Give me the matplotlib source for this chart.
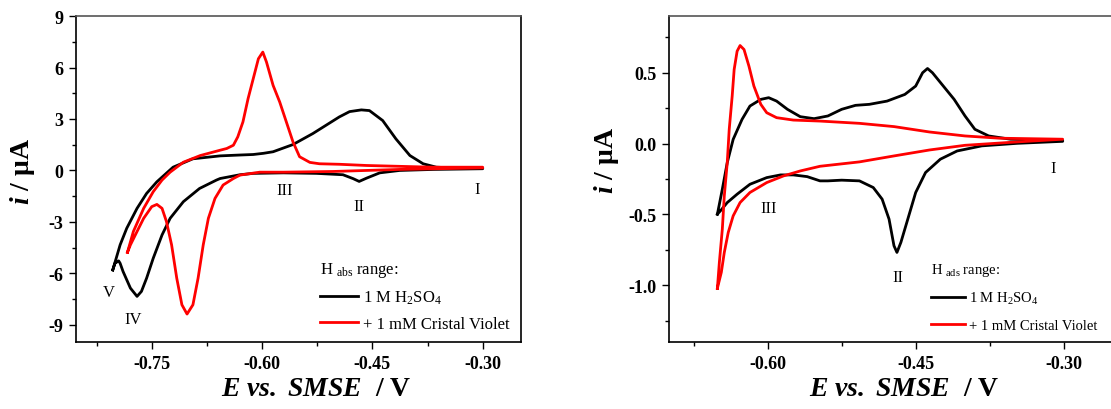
import matplotlib
matplotlib.use('Agg')
from matplotlib import pyplot as plt
from matplotlib.lines import Line2D
from matplotlib.ticker import MultipleLocator

plt.rcParams['font.family'] = 'Liberation Serif'
plt.rcParams['mathtext.fontset'] = 'custom'
plt.rcParams['mathtext.rm'] = 'Liberation Serif'
plt.rcParams['mathtext.it'] = 'Liberation Serif:italic'
plt.rcParams['mathtext.bf'] = 'Liberation Serif:bold'
plt.rcParams['mathtext.bfit'] = 'Liberation Serif:italic:bold'
plt.rcParams['axes.unicode_minus'] = False

# ---- H_abs range (left panel) ----
# 1 M H2SO4: anodic branch (left -> right), then cathodic branch (right -> left)
abs_h2so4_E = [-0.803, -0.793, -0.784, -0.770, -0.757, -0.743, -0.721, -0.694, -0.657, -0.630,
               -0.612, -0.598, -0.585, -0.558, -0.531, -0.495, -0.481, -0.465, -0.454, -0.436,
               -0.418, -0.399, -0.381, -0.363, -0.336, -0.300,
               -0.300, -0.367, -0.413, -0.440, -0.458, -0.468, -0.476, -0.490, -0.526, -0.571,
               -0.612, -0.630, -0.657, -0.662, -0.685, -0.707, -0.725, -0.736, -0.748, -0.757,
               -0.764, -0.770, -0.779, -0.789, -0.793, -0.795, -0.800, -0.803]
abs_h2so4_i = [-5.80, -4.34, -3.37, -2.21, -1.34, -0.66, 0.19, 0.68, 0.85, 0.90,
               0.93, 1.00, 1.09, 1.51, 2.15, 3.12, 3.43, 3.53, 3.49, 2.91,
               1.84, 0.87, 0.39, 0.19, 0.14, 0.13,
               0.10, 0.06, 0.00, -0.14, -0.45, -0.64, -0.48, -0.25, -0.17, -0.14,
               -0.17, -0.25, -0.47, -0.56, -1.05, -1.82, -2.79, -3.76, -5.12, -6.28,
               -7.05, -7.34, -6.86, -5.89, -5.41, -5.27, -5.41, -5.80]

# + 1 mM Cristal Violet
abs_cv_E = [-0.783, -0.775, -0.761, -0.748, -0.736, -0.725, -0.707, -0.684, -0.657, -0.648,
            -0.639, -0.633, -0.626, -0.619, -0.612, -0.605, -0.599, -0.594, -0.585, -0.576,
            -0.567, -0.558, -0.549, -0.535, -0.522, -0.495, -0.458, -0.368, -0.300,
            -0.300, -0.413, -0.504, -0.571, -0.603, -0.630, -0.639, -0.653, -0.664, -0.673,
            -0.680, -0.687, -0.694, -0.702, -0.709, -0.716, -0.723, -0.730, -0.736, -0.743,
            -0.750, -0.761, -0.770, -0.779, -0.783]
abs_cv_i = [-4.77, -3.56, -2.21, -1.24, -0.56, -0.10, 0.48, 0.87, 1.18, 1.28,
            1.47, 1.96, 2.83, 4.19, 5.35, 6.51, 6.90, 6.32, 4.96, 3.99,
            2.83, 1.67, 0.80, 0.47, 0.39, 0.36, 0.29, 0.19, 0.19,
            0.15, 0.06, -0.06, -0.10, -0.10, -0.27, -0.47, -0.85, -1.63, -2.79,
            -4.34, -6.28, -7.83, -8.37, -7.83, -6.28, -4.34, -2.98, -2.21, -1.98,
            -2.11, -2.79, -3.56, -4.34, -4.77]

abs_peaks = ['III', 'II', 'I', 'V', 'IV']
abs_peak_E = [-0.569, -0.468, -0.308, -0.809, -0.775]
abs_peak_i = [-1.16, -2.07, -1.10, -7.10, -8.66]

# ---- H_ads range (right panel) ----
ads_h2so4_E = [-0.651, -0.646, -0.641, -0.635, -0.626, -0.618, -0.607, -0.599, -0.591, -0.580,
               -0.567, -0.553, -0.539, -0.525, -0.511, -0.497, -0.479, -0.461, -0.450, -0.443,
               -0.438, -0.433, -0.422, -0.411, -0.400, -0.390, -0.376, -0.354, -0.301,
               -0.301, -0.347, -0.383, -0.408, -0.425, -0.440, -0.450, -0.458, -0.465, -0.469,
               -0.472, -0.477, -0.484, -0.493, -0.507, -0.525, -0.539, -0.547, -0.560, -0.574,
               -0.587, -0.601, -0.618, -0.631, -0.641, -0.648, -0.651]
ads_h2so4_i = [-0.498, -0.322, -0.134, 0.030, 0.171, 0.265, 0.312, 0.324, 0.300, 0.242,
               0.190, 0.176, 0.195, 0.242, 0.270, 0.277, 0.300, 0.347, 0.406, 0.500,
               0.530, 0.500, 0.406, 0.312, 0.195, 0.101, 0.054, 0.031, 0.021,
               0.016, 0.002, -0.016, -0.052, -0.110, -0.204, -0.345, -0.533, -0.697, -0.768,
               -0.721, -0.533, -0.392, -0.310, -0.263, -0.258, -0.263, -0.263, -0.233, -0.221,
               -0.221, -0.240, -0.287, -0.357, -0.416, -0.475, -0.498]

ads_cv_E = [-0.651, -0.649, -0.646, -0.644, -0.641, -0.639, -0.636, -0.634, -0.631, -0.628,
            -0.624, -0.619, -0.614, -0.607, -0.601, -0.591, -0.574, -0.547, -0.507, -0.472,
            -0.436, -0.400, -0.365, -0.301,
            -0.301, -0.347, -0.400, -0.436, -0.472, -0.507, -0.547, -0.567, -0.584, -0.601,
            -0.618, -0.628, -0.635, -0.640, -0.644, -0.647, -0.651]
ads_cv_i = [-1.021, -0.838, -0.604, -0.369, -0.134, 0.101, 0.335, 0.523, 0.652, 0.692,
            0.664, 0.546, 0.406, 0.277, 0.218, 0.183, 0.166, 0.159, 0.143, 0.120,
            0.082, 0.054, 0.038, 0.031,
            0.031, 0.012, -0.012, -0.045, -0.087, -0.129, -0.160, -0.193, -0.228, -0.275,
            -0.345, -0.416, -0.510, -0.627, -0.768, -0.908, -1.021]

ads_peaks = ['III', 'II', 'I']
ads_peak_E = [-0.599, -0.468, -0.311]
ads_peak_i = [-0.451, -0.944, -0.174]

fig = plt.figure(figsize=(11.11, 4.10), dpi=100)
ax1 = fig.add_axes([0.0684, 0.1634, 0.4005, 0.795])
ax2 = fig.add_axes([0.6022, 0.1634, 0.3996, 0.795])


def style(ax):
    ax.tick_params(which='both', direction='out', labelsize=13, width=1, pad=4)
    ax.tick_params(which='major', length=5)
    ax.tick_params(which='minor', length=3)
    for lab in ax.get_xticklabels() + ax.get_yticklabels():
        lab.set_fontweight('bold')
    ax.spines['top'].set_color('#555555')
    for s in ['left', 'bottom', 'right', 'top']:
        ax.spines[s].set_linewidth(1.2)


lw = 2.0
ax1.plot(abs_h2so4_E, abs_h2so4_i, color='black', lw=lw)
ax1.plot(abs_cv_E, abs_cv_i, color='#ff0000', lw=lw)
for name, e, i in zip(abs_peaks, abs_peak_E, abs_peak_i):
    ax1.text(e, i, name, fontsize=12, ha='center', va='center')
ax1.set_xlim(-0.853, -0.248)
ax1.set_ylim(-10, 9)
ax1.xaxis.set_major_locator(MultipleLocator(0.15))
ax1.xaxis.set_minor_locator(MultipleLocator(0.075))
ax1.yaxis.set_major_locator(MultipleLocator(3))
ax1.yaxis.set_minor_locator(MultipleLocator(1.5))
ax1.xaxis.set_major_formatter(plt.FormatStrFormatter('%.2f'))
ax1.set_xlabel(r'$\mathbfit{E\ vs.\ SMSE}$  / V', fontsize=20, fontweight='bold')
ax1.set_ylabel(r'$\mathbfit{i}$ / μA', fontsize=20, fontweight='bold')
ax1.xaxis.set_label_coords(0.54, -0.105)
ax1.yaxis.set_label_coords(-0.0876, 0.525)
handles = [Line2D([], [], color='black', lw=lw), Line2D([], [], color='#ff0000', lw=lw)]
ax1.legend(handles, ['1 M H$_2$SO$_4$', '+ 1 mM Cristal Violet'],
           title=r'H $_{\mathregular{abs}}$ range:', title_fontsize=12, fontsize=12,
           loc='lower left', bbox_to_anchor=(0.535, 0.012), frameon=False,
           alignment='left', handlelength=2.3, handletextpad=0.3, borderpad=0.35,
           borderaxespad=0, labelspacing=0.6)
style(ax1)

ax2.plot(ads_h2so4_E, ads_h2so4_i, color='black', lw=lw)
ax2.plot(ads_cv_E, ads_cv_i, color='#ff0000', lw=lw)
for name, e, i in zip(ads_peaks, ads_peak_E, ads_peak_i):
    ax2.text(e, i, name, fontsize=12, ha='center', va='center')
ax2.set_xlim(-0.70, -0.25)
ax2.set_ylim(-1.4, 0.9)
ax2.xaxis.set_major_locator(MultipleLocator(0.15))
ax2.xaxis.set_minor_locator(MultipleLocator(0.075))
ax2.yaxis.set_major_locator(MultipleLocator(0.5))
ax2.yaxis.set_minor_locator(MultipleLocator(0.25))
ax2.xaxis.set_major_formatter(plt.FormatStrFormatter('%.2f'))
ax2.yaxis.set_major_formatter(plt.FormatStrFormatter('%.1f'))
ax2.set_xlabel(r'$\mathbfit{E\ vs.\ SMSE}$  / V', fontsize=20, fontweight='bold')
ax2.set_ylabel(r'$\mathbfit{i}$ / μA', fontsize=20, fontweight='bold')
ax2.xaxis.set_label_coords(0.529, -0.105)
ax2.yaxis.set_label_coords(-0.108, 0.56)
ax2.legend(handles, ['1 M H$_2$SO$_4$', '+ 1 mM Cristal Violet'],
           title=r'H $_{\mathregular{ads}}$ range:', title_fontsize=10.5, fontsize=10.5,
           loc='lower left', bbox_to_anchor=(0.577, 0.014), frameon=False,
           alignment='left', handlelength=2.3, handletextpad=0.3, borderpad=0.4,
           borderaxespad=0, labelspacing=0.83)
style(ax2)
ax2.spines['right'].set_visible(False)

fig.savefig('out.png', dpi=100)
